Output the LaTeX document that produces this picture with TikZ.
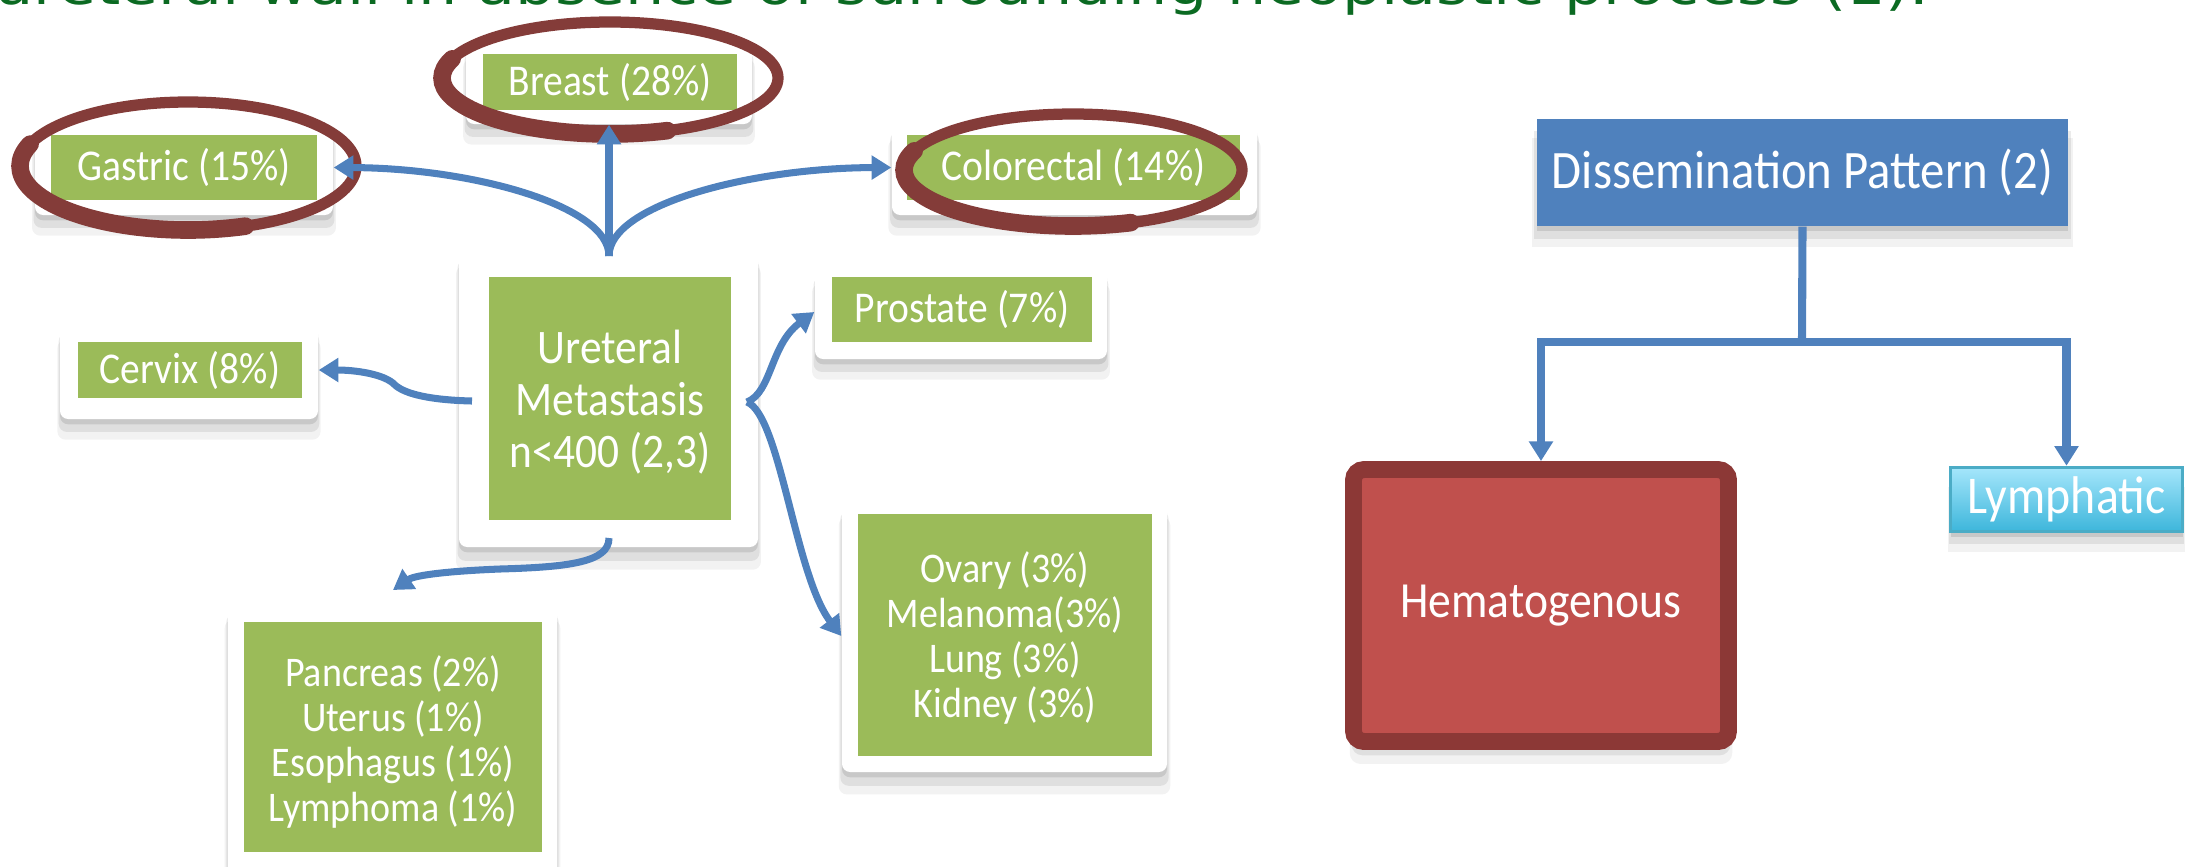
\documentclass[tikz,border=0pt]{standalone}
\usepackage{fontspec}
\setmainfont{Carlito}[FakeStretch=0.9]
\newfontfamily\titlefont{DejaVu Sans}
\usetikzlibrary{arrows.meta,shadows,fit,calc}
\definecolor{boxgreen}{HTML}{9BBB59}
\definecolor{lineblue}{HTML}{4F81BD}
\definecolor{ringred}{HTML}{843C39}
\definecolor{hemfill}{HTML}{C0504D}
\definecolor{hemborder}{HTML}{8C3836}
\definecolor{lymtop}{HTML}{A5E6FB}
\definecolor{lymbot}{HTML}{3DB6DB}
\definecolor{lymborder}{HTML}{4BACC6}
\definecolor{titlegreen}{HTML}{0B6A22}
\newcommand\fsS{\fontsize{12.5}{13}\selectfont}
\newcommand\fsU{\fontsize{13.7}{14.8}\selectfont}
\newcommand\fsL{\fontsize{12}{12.8}\selectfont}
\newcommand\fsD{\fontsize{15.4}{16}\selectfont}
\newcommand\fsH{\fontsize{14.4}{15}\selectfont}
\newcommand\fsY{\fontsize{15.1}{16}\selectfont}
\tikzset{
  softshadow/.style={
    drop shadow={shadow xshift=0pt,shadow yshift=-1.5pt,opacity=0.10,fill=black},
    drop shadow={shadow xshift=0pt,shadow yshift=-3.5pt,opacity=0.08,fill=black,shadow scale=1.01},
    drop shadow={shadow xshift=0pt,shadow yshift=-5.5pt,opacity=0.05,fill=black,shadow scale=1.02}},
  card/.style={fill=white, rounded corners=2.3pt, inner sep=0pt, softshadow},
  gbox/.style={fill=boxgreen, inner sep=0pt, text=white, align=center, font=\fsS},
  bline/.style={draw=lineblue, line width=2pt},
  rline/.style={draw=lineblue, line width=2.3pt},
  arr/.style={-{Triangle[width=6.6pt,length=5.6pt]}},
  ring/.style={draw=ringred, line width=3.2pt, line cap=round},
  ringthick/.style={draw=ringred, line width=5pt, line cap=round},
}
\begin{document}
\begin{tikzpicture}[x=0.01cm,y=-0.01cm]
\useasboundingbox (0,0) rectangle (2190,866);
\clip (0,0) rectangle (2190,866);

% title (cut at top)
\node[anchor=base west, inner sep=0pt, text=titlegreen, font=\titlefont\fontsize{14.8}{16}\selectfont] (title) at (-6,4) {\scalebox{1.19}[1]{ureteral wall in absence of surrounding neoplastic process (1).}};

% cards
\node[card, fit={(466,40) (752,124)}] (breastC) {};
\node[card, fit={(35,120) (333,215)}] (gastricC) {};
\node[card, fit={(892,120) (1257,215)}] (colorectalC) {};
\node[card, fit={(459,249) (758,547)}] (centralC) {};
\node[card, fit={(60,321) (318,419)}] (cervixC) {};
\node[card, fit={(815,265) (1107,359)}] (prostateC) {};
\node[card, fit={(842,500) (1167,772)}] (ovaryC) {};
\node[card, fit={(228,603) (557,890)}] (pancreasC) {};

% green boxes
\node[gbox, fit={(483,54) (737,110)}] (breast) {};
\node[text=white, font=\fsS] at (breast.center) {Breast (28\%)};
\node[gbox, fit={(51,135) (317,200)}] (gastric) {};
\node[text=white, font=\fsS] at (gastric.center) {Gastric (15\%)};
\node[gbox, fit={(907,135) (1240,200)}] (colorectal) {};
\node[text=white, font=\fsS] at (colorectal.center) {Colorectal (14\%)};
\node[gbox, fit={(489,277) (731,520)}] (central) {};
\node[text=white, font=\fsU, align=center] at ([yshift=-1pt]central.center) {Ureteral\\Metastasis\\n<400 (2,3)};
\node[gbox, fit={(78,342) (302,398)}] (cervix) {};
\node[text=white, font=\fsS] at (cervix.center) {Cervix (8\%)};
\node[gbox, fit={(832,277) (1092,342)}] (prostate) {};
\node[text=white, font=\fsS] at (prostate.center) {Prostate (7\%)};
\node[gbox, fit={(858,514) (1152,756)}] (ovary) {};
\node[text=white, font=\fsL, align=center] at ([yshift=-0.8pt]ovary.center) {Ovary (3\%)\\Melanoma(3\%)\\Lung (3\%)\\Kidney (3\%)};
\node[gbox, fit={(244,622) (542,852)}] (pancreas) {};
\node[text=white, font=\fsL, align=center] at ([yshift=-1.5pt]pancreas.center) {Pancreas (2\%)\\Uterus (1\%)\\Esophagus (1\%)\\Lymphoma (1\%)};

% rings
\draw[ring] (188,166) ellipse [x radius=168, y radius=64];
\draw[ringthick] ([shift={(70:168 and 64)}]188,166) arc[start angle=70, end angle=200, x radius=168, y radius=64];
\draw[ring] (610,78) ellipse [x radius=168, y radius=56];
\draw[ringthick] ([shift={(70:168 and 56)}]610,78) arc[start angle=70, end angle=200, x radius=168, y radius=56];
\draw[ring] (1073,170) ellipse [x radius=169, y radius=56];
\draw[ringthick] ([shift={(70:169 and 56)}]1073,170) arc[start angle=70, end angle=200, x radius=169, y radius=56];

% left connectors
\coordinate (hub) at (609,256);
\coordinate (bracket) at (747,402);
\coordinate (cstart) at (472,401);
\coordinate (pstart) at (609,538);
\coordinate (ptip) at (393,590);
\draw[bline, arr] (hub) -- (breastC.south);
\draw[bline, arr] (hub) .. controls (609,205) and (470,168) .. (gastricC.east);
\draw[bline, arr] (hub) .. controls (609,205) and (750,168) .. (colorectalC.west);
\draw[bline, arr] (cstart) .. controls (430,400) and (405,394) .. (395,385) .. controls (385,374) and (355,370) .. (cervixC.east);
\draw[bline, arr] (bracket) .. controls (772,392) and (770,345) .. (prostateC.west);
\draw[bline, arr] (bracket) .. controls (780,415) and (795,575) .. (ovaryC.west);
\draw[bline, arr] (pstart) .. controls (609,562) and (570,567) .. (500,569) .. controls (450,571) and (415,575) .. (ptip);

% right part
\node[fill=lineblue, inner sep=0pt, softshadow, fit={(1537,119) (2068,226)}] (diss) {};
\node[text=white, font=\fsD] at (diss.center) {Dissemination Pattern (2)};
\node[fill=hemfill, draw=hemborder, line width=4.8pt, rounded corners=3pt, inner sep=0pt, softshadow, fit={(1353.5,469.5) (1728.5,741.5)}] (hemat) {};
\node[text=white, font=\fsH] at (hemat.center) {Hematogenous};
\node[top color=lymtop, bottom color=lymbot, draw=lymborder, line width=1pt, inner sep=0pt, softshadow, fit={(1950.5,467.5) (2182.5,531.5)}] (lymph) {};
\node[text=white, font=\fsY] at (lymph.center) {Lymphatic};
\coordinate (junction) at (1802,342);
\draw[rline] (diss.south) -- (junction);
\draw[rline, arr] (junction) -| (hemat.north);
\draw[rline, arr] (junction) -| (lymph.north);
\end{tikzpicture}
\end{document}
